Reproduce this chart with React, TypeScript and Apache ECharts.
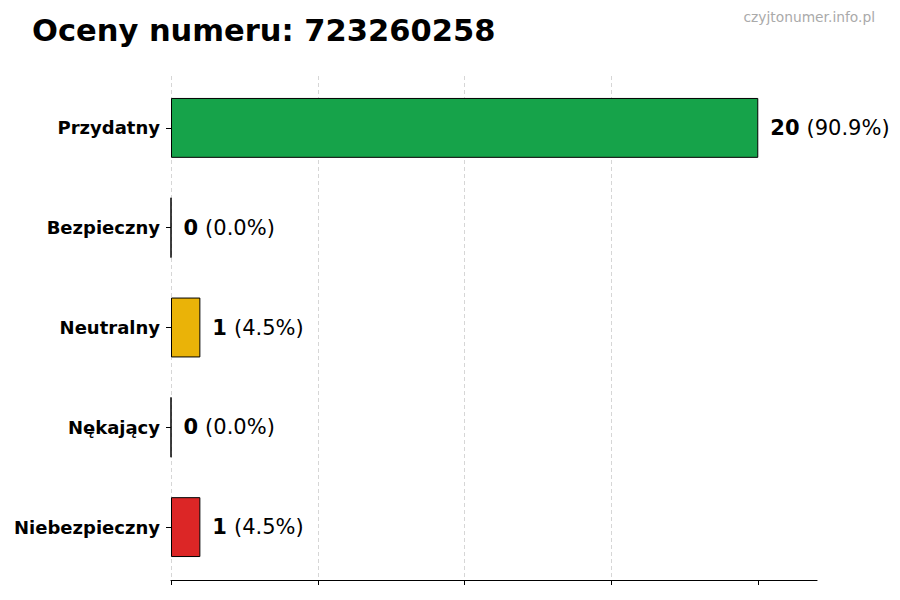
import { useEffect, useRef } from "react";
import * as echarts from "echarts";

const title = "Oceny numeru: 723260258";
const watermark = "czyjtonumer.info.pl";
const categories = ["Przydatny", "Bezpieczny", "Neutralny", "Nękający", "Niebezpieczny"];
const counts = [20, 0, 1, 0, 1];
const colors = ["#16a34a", "#9ca3af", "#eab308", "#f97316", "#dc2626"];
const xTicks = [0, 5, 10, 15, 20];

const FONT = "DejaVu Sans";

const App = () => {
  const chartRef = useRef<HTMLDivElement | null>(null);

  useEffect(() => {
    if (!chartRef.current) return;
    const chart = echarts.init(chartRef.current, null, { renderer: "svg" });
    const total = counts.reduce((a, b) => a + b, 0);

    const option = {
      animation: false,
      backgroundColor: "#fff",
      textStyle: { fontFamily: FONT },
      graphic: [
        {
          type: "text",
          x: 32,
          y: 30,
          style: {
            text: title,
            fontFamily: FONT,
            fontSize: 30.5,
            fontWeight: "bold",
            fill: "#000",
            textVerticalAlign: "middle",
          },
        },
        {
          type: "text",
          x: 875,
          y: 17,
          style: {
            text: watermark,
            fontFamily: FONT,
            fontSize: 13.8,
            fill: "#aaaaaa",
            textAlign: "right",
            textVerticalAlign: "middle",
          },
        },
      ],
      // grid 0 holds the bars, grid 1 the frame (axis line + dashed grid),
      // which reaches a little past the outer categories
      grid: [
        { left: 171, right: 83, top: 78, height: 499, containLabel: false },
        { left: 171, right: 83, top: 76, bottom: 20, containLabel: false },
      ],
      xAxis: [
        {
          gridIndex: 0,
          type: "value",
          min: 0,
          max: 22,
          show: false,
        },
        {
          gridIndex: 1,
          type: "value",
          min: 0,
          max: 22,
          interval: 5,
          axisLine: { show: true, lineStyle: { color: "#000", width: 1.2 } },
          axisTick: { show: true, length: 5, customValues: xTicks, lineStyle: { color: "#000", width: 1 } },
          axisLabel: { show: false },
          splitLine: {
            show: true,
            showMaxLine: false,
            lineStyle: { color: "#cccccc", type: [4, 3], width: 0.8 },
          },
        },
      ],
      yAxis: [
        {
          gridIndex: 0,
          type: "category",
          inverse: true,
          data: categories,
          axisLine: { show: false },
          axisTick: { show: true, alignWithLabel: true, length: 5, lineStyle: { color: "#000", width: 1 } },
          axisLabel: {
            margin: 11,
            fontFamily: FONT,
            fontSize: 18,
            fontWeight: "bold",
            color: "#000",
          },
          splitLine: { show: false },
        },
        {
          gridIndex: 1,
          type: "category",
          data: categories,
          show: false,
        },
      ],
      series: [
        {
          type: "bar",
          xAxisIndex: 0,
          yAxisIndex: 0,
          barWidth: "60%",
          data: counts.map((v, i) => ({ value: v, itemStyle: { color: colors[i] } })),
          itemStyle: { borderColor: "#000", borderWidth: 1 },
          label: {
            show: true,
            position: "right",
            distance: 12,
            formatter: (p: any) =>
              `{b|${p.value}}{s| }{n|(${((p.value / total) * 100).toFixed(1)}%)}`,
            rich: {
              b: { fontFamily: FONT, fontSize: 21, fontWeight: "bold", color: "#000" },
              s: { fontFamily: FONT, fontSize: 21, width: 7, color: "#000" },
              n: { fontFamily: FONT, fontSize: 21, color: "#000" },
            },
          },
        },
      ],
    };

    chart.setOption(option);
    return () => chart.dispose();
  }, []);

  return <div ref={chartRef} style={{ width: 900, height: 600, margin: -8 }} />;
};

export default App;
